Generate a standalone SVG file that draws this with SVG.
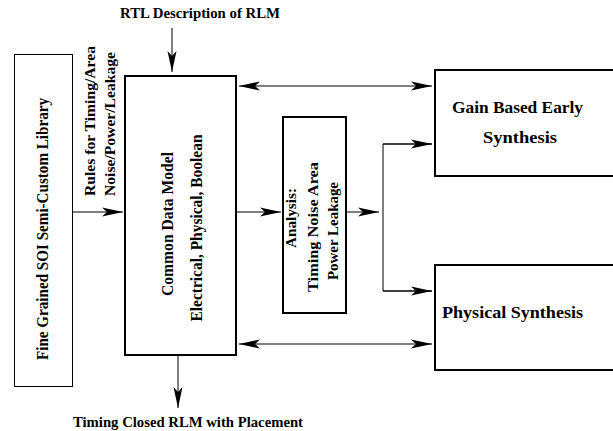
<svg xmlns="http://www.w3.org/2000/svg" width="613" height="431" viewBox="0 0 613 431">
<defs>
<style>
.box{fill:#fff;stroke:#000;stroke-width:2}
.thin{fill:#fff;stroke:#000;stroke-width:1}
.c{fill:none;stroke:#000;stroke-width:1}
text{font-family:"Liberation Serif","Times New Roman",serif;font-weight:bold;font-size:16px;fill:#000}
.s{font-size:15px}
</style>
<marker id="ah" viewBox="0 -5 21 10" refX="21" refY="0" markerWidth="21" markerHeight="10" markerUnits="userSpaceOnUse" orient="auto-start-reverse">
<path d="M0,-4.5 L21,0 L0,4.5 L5,0 Z" fill="#000"/>
</marker>
</defs>
<g id="connectors">
<line class="c" x1="172" y1="28" x2="172" y2="72" marker-end="url(#ah)"/>
<line class="c" x1="73" y1="212" x2="123" y2="212" marker-end="url(#ah)"/>
<line class="c" x1="236" y1="212" x2="281" y2="212" marker-end="url(#ah)"/>
<line class="c" x1="239" y1="86" x2="432" y2="86" marker-start="url(#ah)" marker-end="url(#ah)"/>
<line class="c" x1="239" y1="344" x2="432" y2="344" marker-start="url(#ah)" marker-end="url(#ah)"/>
<line class="c" x1="346" y1="212" x2="379" y2="212" marker-end="url(#ah)"/>
<polyline class="c" points="432,144 383,144 383,291 432,291"/>
<line class="c" x1="383" y1="144" x2="432" y2="144" marker-end="url(#ah)"/>
<line class="c" x1="383" y1="291" x2="432" y2="291" marker-end="url(#ah)"/>
<line class="c" x1="178" y1="355" x2="178" y2="408" marker-end="url(#ah)"/>
</g>
<g id="rtl">
<text class="s" x="120" y="18" textLength="160" lengthAdjust="spacingAndGlyphs">RTL Description of RLM</text>
</g>
<g id="library">
<rect class="thin" x="14.5" y="54.5" width="58" height="332"/>
<text transform="translate(48,229) rotate(-90)" text-anchor="middle" textLength="262" lengthAdjust="spacingAndGlyphs">Fine Grained SOI Semi-Custom Library</text>
</g>
<g id="rules">
<text class="s" transform="translate(95,196) rotate(-90)" textLength="150" lengthAdjust="spacingAndGlyphs">Rules for Timing/Area</text>
<text class="s" transform="translate(115,196) rotate(-90)" textLength="144" lengthAdjust="spacingAndGlyphs">Noise/Power/Leakage</text>
</g>
<g id="cdm">
<rect class="box" x="125" y="76" width="111" height="279"/>
<text transform="translate(173,224) rotate(-90)" text-anchor="middle" textLength="144" lengthAdjust="spacingAndGlyphs">Common Data Model</text>
<text transform="translate(202,228) rotate(-90)" text-anchor="middle" textLength="187" lengthAdjust="spacingAndGlyphs">Electrical, Physical, Boolean</text>
</g>
<g id="analysis">
<rect class="box" x="283" y="117" width="63" height="196"/>
<text class="s" transform="translate(296,218) rotate(-90)" text-anchor="middle" textLength="60" lengthAdjust="spacingAndGlyphs">Analysis:</text>
<text class="s" transform="translate(318,227) rotate(-90)" text-anchor="middle" textLength="130" lengthAdjust="spacingAndGlyphs">Timing Noise Area</text>
<text class="s" transform="translate(338,231) rotate(-90)" text-anchor="middle" textLength="98" lengthAdjust="spacingAndGlyphs">Power Leakage</text>
</g>
<g id="gain">
<rect class="box" x="435" y="70" width="182" height="106"/>
<text x="452" y="113" textLength="131" lengthAdjust="spacingAndGlyphs">Gain Based Early</text>
<text x="483" y="143" textLength="74" lengthAdjust="spacingAndGlyphs">Synthesis</text>
</g>
<g id="physical">
<rect class="box" x="435" y="265" width="182" height="105"/>
<text x="442" y="318" textLength="141" lengthAdjust="spacingAndGlyphs">Physical Synthesis</text>
</g>
<g id="output">
<text class="s" x="73" y="427" textLength="230" lengthAdjust="spacingAndGlyphs">Timing Closed RLM with Placement</text>
</g>
</svg>
